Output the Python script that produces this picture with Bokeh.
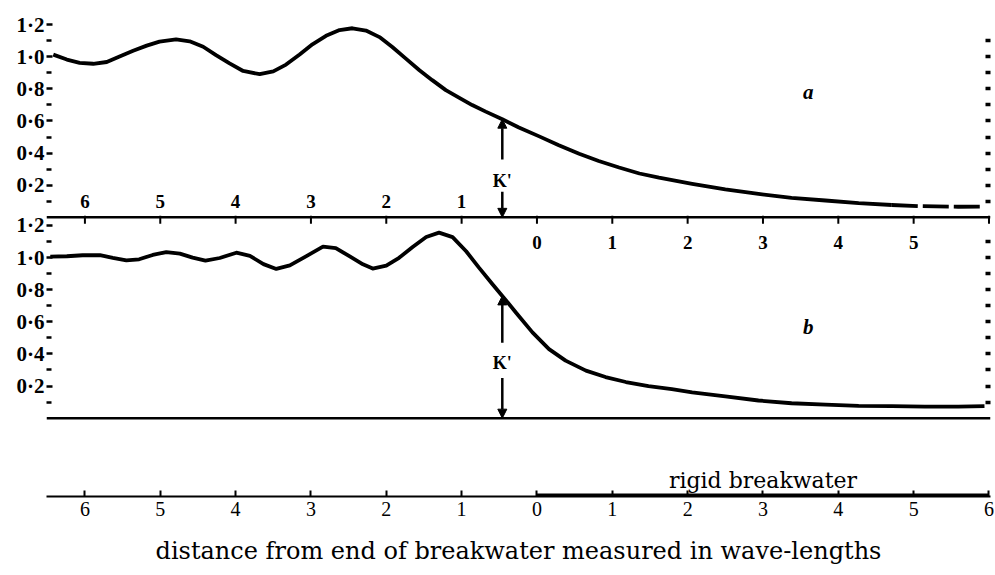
from bokeh.plotting import figure
from bokeh.models import Range1d, FixedTicker, LinearAxis, Arrow, NormalHead, Span
from bokeh.core.properties import value
from bokeh.embed import file_html
from bokeh.resources import INLINE

# ---------------- data ----------------
# panel a : K' against distance from end of breakwater (wave-lengths)
XA = [-6.42, -6.24, -6.07, -5.89, -5.71, -5.54, -5.36, -5.18, -5.01, -4.79,
      -4.61, -4.43, -4.26, -4.08, -3.90, -3.68, -3.50, -3.33, -3.15, -2.98,
      -2.80, -2.62, -2.45, -2.27, -2.09, -1.92, -1.74, -1.56, -1.39, -1.21,
      -1.03, -0.86, -0.68, -0.46, -0.24, 0.03, 0.29, 0.56, 0.82, 1.09,
      1.36, 1.62, 2.06, 2.50, 2.94, 3.38, 3.83, 4.27, 4.71, 5.06,
      5.59, 5.94]
KA = [1.013, 0.982, 0.962, 0.956, 0.967, 1.001, 1.037, 1.069, 1.094, 1.108,
      1.096, 1.062, 1.010, 0.958, 0.911, 0.891, 0.909, 0.951, 1.014, 1.077,
      1.130, 1.166, 1.177, 1.163, 1.122, 1.060, 0.988, 0.916, 0.854, 0.792,
      0.744, 0.699, 0.658, 0.611, 0.559, 0.504, 0.449, 0.396, 0.351, 0.310,
      0.273, 0.247, 0.209, 0.174, 0.146, 0.121, 0.105, 0.088, 0.077, 0.070,
      0.066, 0.067]

# panel b
XB = [-6.46, -6.24, -6.03, -5.80, -5.63, -5.45, -5.28, -5.10, -4.92, -4.74,
      -4.57, -4.40, -4.21, -3.99, -3.81, -3.63, -3.46, -3.28, -3.06, -2.84,
      -2.67, -2.49, -2.31, -2.18, -2.00, -1.83, -1.65, -1.47, -1.30, -1.12,
      -0.94, -0.77, -0.59, -0.46, -0.28, -0.06, 0.16, 0.38, 0.65, 0.91,
      1.18, 1.48, 1.79, 2.06, 2.50, 2.94, 3.38, 3.83, 4.27, 4.71,
      5.15, 5.59, 5.94]
KB = [1.006, 1.008, 1.014, 1.015, 0.998, 0.982, 0.989, 1.016, 1.034, 1.024,
      0.999, 0.981, 0.997, 1.030, 1.010, 0.959, 0.929, 0.951, 1.009, 1.068,
      1.059, 1.008, 0.958, 0.931, 0.949, 0.998, 1.066, 1.128, 1.155, 1.127,
      1.039, 0.937, 0.834, 0.761, 0.658, 0.534, 0.430, 0.358, 0.296, 0.256,
      0.225, 0.199, 0.181, 0.161, 0.136, 0.110, 0.093, 0.084, 0.077, 0.075,
      0.072, 0.072, 0.075]

K_INDEX = 33            # point where the K' arrow is drawn (x = -0.46)

Y_TICKS = [0.2, 0.4, 0.6, 0.8, 1.0, 1.2]
Y_LABELS = ["0·2", "0·4", "0·6", "0·8", "1·0", "1·2"]
Y_MINOR = [0.1, 0.3, 0.5, 0.7, 0.9, 1.1]
RIGHT_TICKS = [0.1, 0.2, 0.3, 0.4, 0.5, 0.6, 0.7, 0.8, 0.9, 1.0, 1.1]

X_TICKS = [-6, -5, -4, -3, -2, -1, 0, 1, 2, 3, 4, 5, 6]
X_LABELS = ["6", "5", "4", "3", "2", "1", "0", "1", "2", "3", "4", "5", "6"]
BREAKWATER = [0, 6]

TITLE = "distance from end of breakwater measured in wave-lengths"

# ---------------- layout constants ----------------
OFF_A = 1.25                      # vertical offset of panel a
X0, X1 = -6.51, 6.02
Y0, Y1 = -0.4875, 2.5375
SERIF = "Liberation Serif"

p = figure(width=994, height=574, x_range=Range1d(X0, X1), y_range=Range1d(Y0, Y1),
           output_backend="svg", toolbar_location=None,
           x_axis_location=None, y_axis_location=None,
           min_border_left=46, min_border_right=4, min_border_top=10, min_border_bottom=78)
p.outline_line_color = None
p.background_fill_color = "white"
p.border_fill_color = "white"
p.grid.visible = False

# ---------------- axes ----------------
lt = [round(t, 6) for t in Y_TICKS] + [round(t + OFF_A, 6) for t in Y_TICKS]
lm = [round(t, 6) for t in Y_MINOR] + [round(t + OFF_A, 6) for t in Y_MINOR]
left = LinearAxis(ticker=FixedTicker(ticks=lt, minor_ticks=lm),
                  major_label_overrides=dict(zip(lt, Y_LABELS + Y_LABELS)),
                  axis_line_color=None,
                  major_tick_in=6, major_tick_out=0, major_tick_line_width=2.5,
                  minor_tick_in=5, minor_tick_out=0, minor_tick_line_width=2.5,
                  major_label_standoff=2,
                  major_label_text_font=SERIF, major_label_text_font_style="bold",
                  major_label_text_font_size="21px", major_label_text_color="black")
p.add_layout(left, "left")

rt = [round(t, 6) for t in RIGHT_TICKS] + [round(t + OFF_A, 6) for t in RIGHT_TICKS]
right = LinearAxis(ticker=FixedTicker(ticks=rt, minor_ticks=[]),
                   major_label_overrides={t: "" for t in rt},
                   axis_line_color=None, major_tick_in=5, major_tick_out=0,
                   major_tick_line_width=3.5, major_label_standoff=0,
                   major_label_text_font_size="1px")
p.add_layout(right, "right")

bottom = LinearAxis(ticker=FixedTicker(ticks=X_TICKS, minor_ticks=[]),
                    major_label_overrides=dict(zip(X_TICKS, X_LABELS)),
                    axis_line_width=2, axis_line_color="black",
                    major_tick_in=6, major_tick_out=0, major_tick_line_width=2,
                    major_label_standoff=5,
                    major_label_text_font=SERIF, major_label_text_font_size="20px",
                    major_label_text_color="black",
                    axis_label=TITLE, axis_label_standoff=18,
                    axis_label_text_font="DejaVu Serif", axis_label_text_font_style="normal",
                    axis_label_text_font_size="24px", axis_label_text_color="black")
p.add_layout(bottom, "below")

# thick part of the bottom line : rigid breakwater
yb = Y0 + 1.5 / 160
p.segment(x0=[BREAKWATER[0]], y0=[yb], x1=[BREAKWATER[1]], y1=[yb],
          line_width=3, line_color="black")
p.text(x=[sum(BREAKWATER) / 2], y=[-0.385], text=["rigid breakwater"],
       text_align="center", text_baseline="middle",
       text_font=value("DejaVu Serif"), text_font_size="22px", text_color="black")

# ---------------- baselines ----------------
p.add_layout(Span(location=OFF_A, dimension="width", line_color="black", line_width=2.5))
p.add_layout(Span(location=0, dimension="width", line_color="black", line_width=2.5))

# panel a inner axis ticks and labels
p.segment(x0=X_TICKS, y0=[OFF_A + 0.01] * len(X_TICKS), x1=X_TICKS,
          y1=[OFF_A - 0.04] * len(X_TICKS), line_width=2, line_color="black")
p.text(x=X_TICKS[:6], y=[OFF_A + 0.1] * 6, text=X_LABELS[:6],
       text_align="center", text_baseline="middle", text_font=value(SERIF),
       text_font_style="bold", text_font_size="19px", text_color="black")
p.text(x=X_TICKS[6:12], y=[OFF_A - 0.155] * 6, text=X_LABELS[6:12],
       text_align="center", text_baseline="middle", text_font=value(SERIF),
       text_font_style="bold", text_font_size="19px", text_color="black")

# ---------------- curves ----------------
KA_shift = [k + OFF_A for k in KA]
p.line(XA[:49], KA_shift[:49], line_width=3.8, line_color="black", line_join="round")
p.line(XA[48:], KA_shift[48:], line_width=3.8, line_color="black", line_dash="26 5")
p.line(XB, KB, line_width=3.8, line_color="black", line_join="round")

# ---------------- K' arrows ----------------
def head():
    return NormalHead(size=9, fill_color="black", line_color="black", line_width=1)

xa = XA[K_INDEX]
p.add_layout(Arrow(end=head(), x_start=xa, y_start=OFF_A + 0.36, x_end=xa,
                   y_end=OFF_A + KA[K_INDEX], line_width=2.5))
p.add_layout(Arrow(end=head(), x_start=xa, y_start=OFF_A + 0.16, x_end=xa,
                   y_end=OFF_A, line_width=2.5))
xb = XB[K_INDEX]
p.add_layout(Arrow(end=head(), x_start=xb, y_start=0.47, x_end=xb,
                   y_end=KB[K_INDEX], line_width=2.5))
p.add_layout(Arrow(end=head(), x_start=xb, y_start=0.25, x_end=xb,
                   y_end=0.0, line_width=2.5))
p.text(x=[xa, xb], y=[OFF_A + 0.225, 0.345], text=["K'", "K'"],
       text_align="center", text_baseline="middle", text_font=value(SERIF),
       text_font_style="bold", text_font_size="18px", text_color="black")

# panel letters
p.text(x=[3.6, 3.6], y=[OFF_A + 0.78, 0.57], text=["a", "b"],
       text_align="center", text_baseline="middle", text_font=value(SERIF),
       text_font_style="bold italic", text_font_size="21px", text_color="black")

open("out.html", "w").write(file_html(p, INLINE))
